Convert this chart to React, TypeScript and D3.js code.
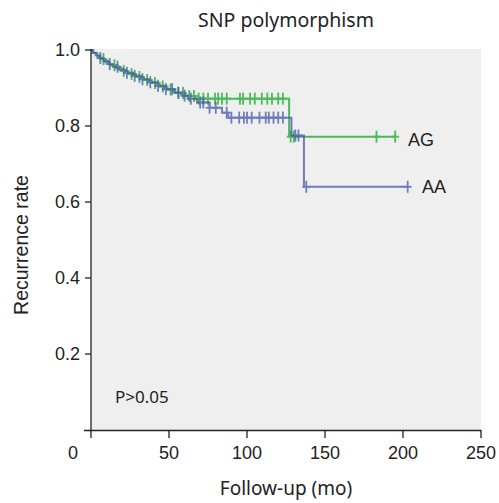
import React from 'react';
import * as d3 from 'd3';

// Kaplan-Meier steps (time in months, survival)
const agTimes = [0, 1.5, 4, 6, 9, 12, 16, 20, 24, 29, 34, 39, 44, 49, 54, 60, 67, 127, 195];
const agSurv = [1.0, 0.992, 0.984, 0.976, 0.968, 0.96, 0.952, 0.945, 0.937, 0.929, 0.921, 0.913, 0.904, 0.896, 0.887, 0.879, 0.872, 0.772, 0.772];
const agCensor = [8, 15, 21, 26, 31, 36, 41, 46, 51, 56, 59, 63, 66, 69, 72, 75, 79.5, 81.5, 84, 87, 95.5, 97.5, 102, 105, 109.5, 113, 116, 120, 123, 128, 130, 183, 195];

const aaTimes = [0, 1, 3, 5, 8, 11, 14, 18, 22, 27, 32, 37, 42, 47, 53, 58, 62, 68, 76, 84, 88, 128.5, 136.5, 203];
const aaSurv = [1.0, 0.993, 0.986, 0.979, 0.971, 0.963, 0.956, 0.948, 0.94, 0.932, 0.923, 0.915, 0.906, 0.897, 0.888, 0.88, 0.872, 0.862, 0.848, 0.835, 0.822, 0.775, 0.64, 0.64];
const aaCensor = [6, 12, 17, 23, 28, 33, 38, 43, 48, 52, 56, 60, 64, 70, 72, 76, 80, 87, 90, 95, 98, 100, 103, 108, 112, 114, 117, 120, 123, 131, 133, 138, 203];

const xTicks = [0, 50, 100, 150, 200, 250];
const yTicks = [0.2, 0.4, 0.6, 0.8, 1.0];

const W = 499;
const H = 503;

function survAt(times: number[], surv: number[], t: number) {
  let s = surv[0];
  for (let i = 0; i < times.length; i++) {
    if (times[i] <= t) s = surv[i];
  }
  return s;
}

export default function App() {
  const x = d3.scaleLinear().domain([0, 250]).range([91, 481]);
  const y = d3.scaleLinear().domain([0, 1]).range([430, 50]);

  const line = d3
    .line<[number, number]>()
    .x(d => x(d[0]))
    .y(d => y(d[1]))
    .curve(d3.curveStepAfter);

  const series = [
    { name: 'AG', times: agTimes, surv: agSurv, censor: agCensor, color: '#3bb44a', opacity: 0.9 },
    { name: 'AA', times: aaTimes, surv: aaSurv, censor: aaCensor, color: '#4656ad', opacity: 0.75 },
  ];

  const tickFont = '"Liberation Sans", Arial, sans-serif';
  const textFont = '"Noto Sans", sans-serif';

  return (
    <svg width={W} height={H} style={{ position: 'absolute', left: 0, top: 0, background: '#fff' }}>
      <rect x={91} y={49} width={390} height={381} fill="#efefef" />

      {series.map(s => (
        <g key={s.name} opacity={s.opacity}>
          <path
            d={line(s.times.map((t, i) => [t, s.surv[i]] as [number, number])) || ''}
            fill="none"
            stroke={s.color}
            strokeWidth={2}
          />
          {s.censor.map((c, i) => {
            const cx = x(c);
            const cy = y(survAt(s.times, s.surv, c));
            return (
              <g key={i} stroke={s.color} strokeWidth={1.8}>
                <line x1={cx} x2={cx} y1={cy - 6} y2={cy + 6} />
                <line x1={cx - 4} x2={cx + 4} y1={cy} y2={cy} />
              </g>
            );
          })}
        </g>
      ))}

      {/* axes */}
      <line x1={91} x2={91} y1={49} y2={431} stroke="#222" strokeWidth={1.3} />
      <line x1={84} x2={481} y1={430.5} y2={430.5} stroke="#222" strokeWidth={1.3} />
      {yTicks.map(t => (
        <g key={t}>
          <line x1={85} x2={91} y1={y(t)} y2={y(t)} stroke="#222" strokeWidth={1.3} />
          <text x={80} y={y(t)} dy="0.35em" textAnchor="end" fontFamily={tickFont} fontSize={18} fill="#222">
            {d3.format('.1f')(t)}
          </text>
        </g>
      ))}
      {xTicks.map(t => (
        <g key={t}>
          <line x1={x(t)} x2={x(t)} y1={430} y2={438} stroke="#222" strokeWidth={1.3} />
          <text
            x={t === 0 ? 73 : x(t)}
            y={459}
            textAnchor="middle"
            fontFamily={tickFont}
            fontSize={18}
            fill="#222"
          >
            {t}
          </text>
        </g>
      ))}

      <text x={286} y={27} textAnchor="middle" fontFamily={textFont} fontSize={19.5} fill="#222">
        SNP polymorphism
      </text>
      <text x={286} y={495} textAnchor="middle" fontFamily={textFont} fontSize={19} fill="#222">
        Follow-up (mo)
      </text>
      <text
        transform="translate(28,245) rotate(-90)"
        textAnchor="middle"
        fontFamily={tickFont}
        fontSize={19.5}
        fill="#222"
      >
        Recurrence rate
      </text>
      <text x={115} y={403} fontFamily={textFont} fontSize={17} fill="#222">
        P&gt;0.05
      </text>
      <text x={408} y={146} fontFamily={tickFont} fontSize={18} fill="#222">
        AG
      </text>
      <text x={422} y={193} fontFamily={tickFont} fontSize={18} fill="#222">
        AA
      </text>
    </svg>
  );
}
